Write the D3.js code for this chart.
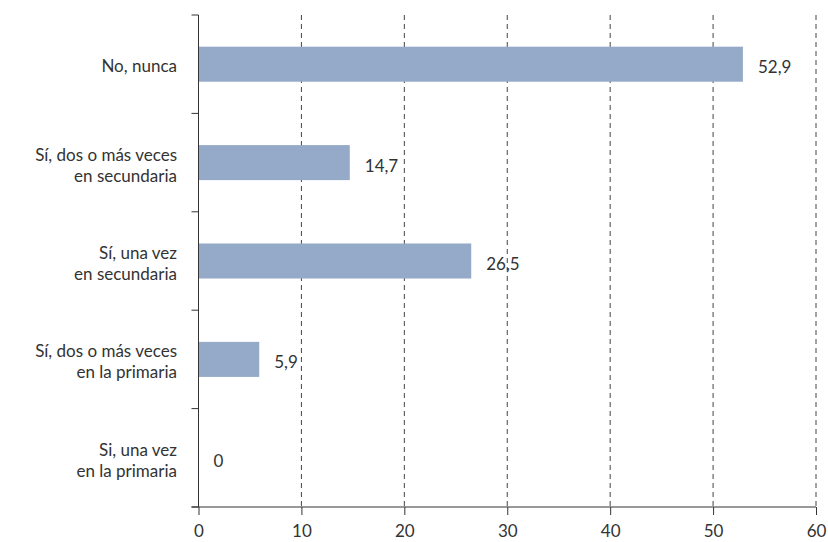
<!DOCTYPE html>
<html><head><meta charset="utf-8">
<script src="https://cdn.jsdelivr.net/npm/d3@7"></script>
<style>body{margin:0;background:#fff}svg{display:block}text{font-family:Lato,"Open Sans",sans-serif;fill:#333}</style>
</head><body>
<script>
const categories = [["No, nunca"],["Sí, dos o más veces","en secundaria"],["Sí, una vez","en secundaria"],["Sí, dos o más veces","en la primaria"],["Si, una vez","en la primaria"]];
const values = [52.9, 14.7, 26.5, 5.9, 0];
const valueLabels = ["52,9","14,7","26,5","5,9","0"];
const xTicks = [0,10,20,30,40,50,60];

const W=828,H=542, mLeft=198.5, mRight=816, mTop=15, mBottom=507;
const svg=d3.select("body").append("svg").attr("width",W).attr("height",H);
const x=d3.scaleLinear().domain([0,60]).range([mLeft,mRight]);
const y=d3.scaleBand().domain(d3.range(values.length)).range([mTop,mBottom]).paddingInner(0.644).paddingOuter(0.322);
const yb=d3.scaleBand().domain(d3.range(values.length)).range([mTop,mBottom]);

// gridlines
svg.append("g").selectAll("line").data(xTicks.filter(d=>d>0)).join("line")
 .attr("x1",d=>x(d)).attr("x2",d=>x(d)).attr("y1",mTop).attr("y2",mBottom)
 .attr("stroke","#444").attr("stroke-width",1).attr("stroke-dasharray","5,4");

// bars
svg.append("g").selectAll("rect").data(values).join("rect")
 .attr("x",x(0)).attr("y",(d,i)=>y(i)).attr("width",d=>x(d)-x(0)).attr("height",y.bandwidth())
 .attr("fill","#95aac8");

// value labels
svg.append("g").selectAll("text").data(values).join("text")
 .attr("x",d=>x(d)+15).attr("y",(d,i)=>y(i)+y.bandwidth()/2+9)
 .attr("font-size",17).text((d,i)=>valueLabels[i]);

// x axis
const xa=svg.append("g").attr("transform",`translate(0,${mBottom})`)
 .call(d3.axisBottom(x).tickValues(xTicks).tickSize(8).tickPadding(10).tickFormat(d3.format("d")));
xa.select(".domain").attr("stroke","#333").attr("d",`M${mLeft-7},0H${mRight}`);
xa.selectAll(".tick line").attr("stroke","#333");
xa.selectAll(".tick text").attr("font-size",17).attr("fill","#333").attr("font-family","Lato, 'Open Sans', sans-serif");

// y axis line & ticks at band boundaries
svg.append("line").attr("x1",mLeft).attr("x2",mLeft).attr("y1",mTop).attr("y2",mBottom).attr("stroke","#333");
svg.append("g").selectAll("line").data(d3.range(values.length+1)).join("line")
 .attr("x1",mLeft-7).attr("x2",mLeft).attr("y1",i=>i<values.length?yb(i):mBottom).attr("y2",i=>i<values.length?yb(i):mBottom)
 .attr("stroke","#333");

// category labels
const cl=svg.append("g").selectAll("text").data(categories).join("text")
 .attr("text-anchor","end").attr("font-size",17)
 .attr("transform",(d,i)=>`translate(177,${yb(i)+yb.bandwidth()/2})`);
cl.each(function(lines){
  const t=d3.select(this), n=lines.length, lh=21;
  const base = n===1 ? 8 : -2;
  lines.forEach((s,k)=>t.append("tspan").attr("x",0).attr("y",base+k*lh).text(s));
});
</script>
</body></html>
